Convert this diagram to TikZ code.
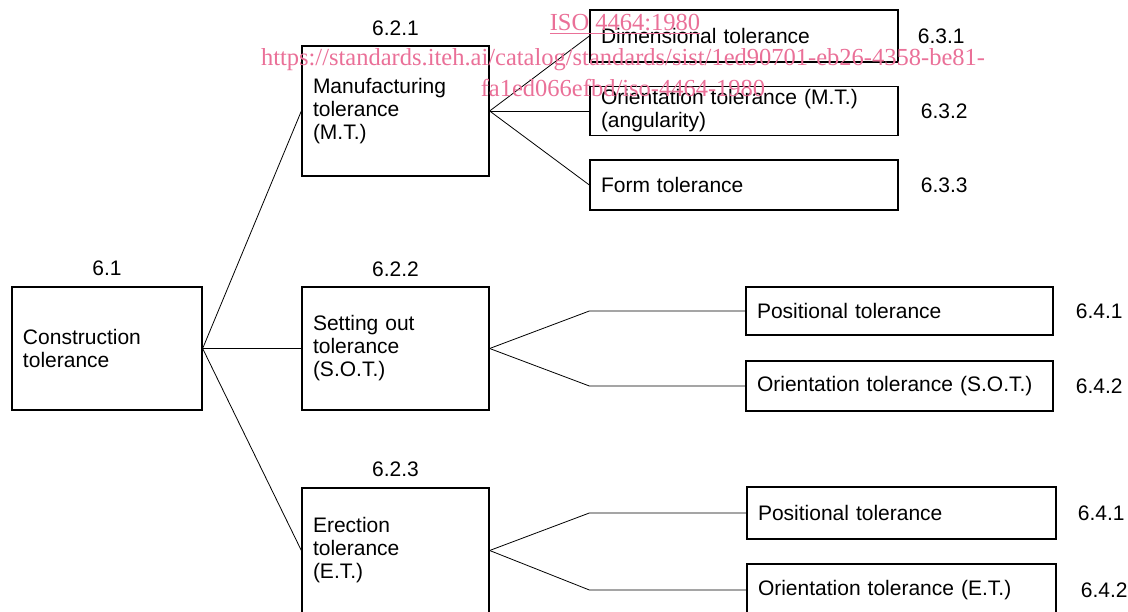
\documentclass[tikz,border=0pt]{standalone}
\usepackage{fontspec}
\setmainfont{Liberation Sans}
\newfontfamily\wmfont{Liberation Serif}
\usetikzlibrary{positioning}
\definecolor{wmpink}{RGB}{234,112,152}

\begin{document}
\begin{tikzpicture}[
  x=1pt, y=1pt,
  box/.style={draw, line width=1.3pt, inner xsep=11pt, inner ysep=2pt, align=left, text width=165pt, font=\fontsize{21}{23}\selectfont},
  leaf/.style={box, text width=286pt},
  num/.style={inner sep=0pt, font=\fontsize{21}{23}\selectfont},
  link/.style={line width=0.8pt},
  wm/.style={text=wmpink, inner sep=0pt, anchor=base, font=\wmfont\fontsize{24.5}{28}\selectfont}
]
  \useasboundingbox (0,0) rectangle (1128,611);
  \clip (0,0) rectangle (1128,611);

  % Main boxes
  \node[box, text width=168pt, minimum height=123pt] (con) at (107,262.5) {Construction\\tolerance};
  \node[box, minimum height=130pt] (mt) at (395.5,500) {Manufacturing\\tolerance\\(M.T.)};
  \node[box, minimum height=123pt] (sot) at (395.5,262.5) {Setting out\\tolerance\\(S.O.T.)};
  \node[box, minimum height=125pt] (et) at (395.5,60.5) {Erection\\tolerance\\(E.T.)};

  \node[num, above=10pt of con] (n61) {6.1};
  \node[num, above=9.5pt of mt] (n621) {6.2.1};
  \node[num, above=9.5pt of sot] (n622) {6.2.2};
  \node[num, above=10pt of et] (n623) {6.2.3};

  % M.T. branch
  \node[leaf, minimum height=52pt] (dim) at (744,575) {Dimensional tolerance};
  \node[leaf, minimum height=49pt] (ori) at (744,500) {Orientation tolerance (M.T.)\\(angularity)};
  \node[leaf, minimum height=50pt] (form) at (744,426) {Form tolerance};

  \node[num, right=19pt of dim] (n631) {6.3.1};
  \node[num, right=22pt of ori] (n632) {6.3.2};
  \node[num, right=22pt of form] (n633) {6.3.3};

  % S.O.T. branch
  \node[leaf, minimum height=48pt, text width=285pt] (possot) at (899.5,300) {Positional tolerance};
  \node[leaf, minimum height=50pt, text width=285pt] (orisot) at (899.5,225) {Orientation tolerance (S.O.T.)};

  \node[num, right=22pt of possot] (n641a) {6.4.1};
  \node[num, right=22pt of orisot] (n642a) {6.4.2};

  % E.T. branch
  \node[leaf, minimum height=52pt, text width=287pt] (poset) at (901.5,98) {Positional tolerance};
  \node[leaf, minimum height=52pt, text width=287pt] (oriet) at (901.5,21) {Orientation tolerance (E.T.)};

  \node[num, right=21pt of poset] (n641b) {6.4.1};
  \node[num, right=24pt of oriet] (n642b) {6.4.2};

  % Connectors
  \draw[link] (con.east) -- (mt.west);
  \draw[link] (con.east) -- (sot.west);
  \draw[link] (con.east) -- (et.west);

  \draw[link] (mt.east) -- (dim.west);
  \draw[link] (mt.east) -- (ori.west);
  \draw[link] (mt.east) -- (form.west);

  \draw[link] (sot.east) -- (dim.west |- possot.west) -- (possot.west);
  \draw[link] (sot.east) -- (dim.west |- orisot.west) -- (orisot.west);
  \draw[link] (et.east) -- (dim.west |- poset.west) -- (poset.west);
  \draw[link] (et.east) -- (dim.west |- oriet.west) -- (oriet.west);

  % Watermark
  \node[wm] (wm1) at (625,580) {\underline{ISO 4464:1980}};
  \node[wm] (wm2) at (623,545) {https://standards.iteh.ai/catalog/standards/sist/1ed90701-eb26-4358-be81-};
  \node[wm] (wm3) at (623,514) {fa1ed066efbd/iso-4464-1980};
\end{tikzpicture}
\end{document}
